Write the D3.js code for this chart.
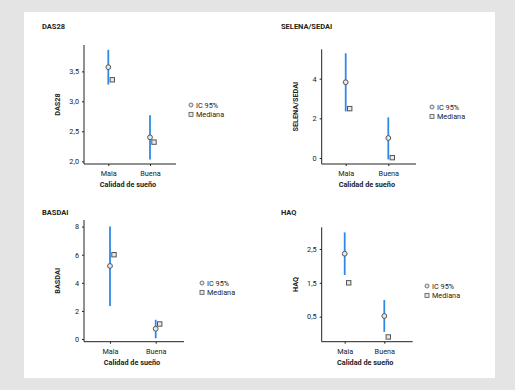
<!DOCTYPE html>
<html lang="es">
<head>
<meta charset="UTF-8">
<title>Calidad de sueño</title>
<script src="https://d3js.org/d3.v7.min.js"></script>
<style>
  body { margin: 0; background: #e4e4e4; font-family: Roboto, 'Noto Sans', sans-serif; }
  svg text { fill: #222; }
</style>
</head>
<body>
<svg id="viz" width="515" height="390"></svg>
<script>
// data
const categories = ["Mala", "Buena"];
const legendLabels = ["IC 95%", "Mediana"];

const das28Low = [3.28, 2.03];
const das28High = [3.86, 2.77];
const das28Mean = [3.57, 2.40];
const das28Median = [3.36, 2.32];
const das28Ticks = [2.0, 2.5, 3.0, 3.5];

const selenaLow = [2.35, -0.07];
const selenaHigh = [5.28, 2.05];
const selenaMean = [3.82, 1.01];
const selenaMedian = [2.49, 0.02];
const selenaTicks = [0, 2, 4];

const basdaiLow = [2.35, 0.05];
const basdaiHigh = [8.0, 1.37];
const basdaiMean = [5.2, 0.73];
const basdaiMedian = [6.0, 1.07];
const basdaiTicks = [0, 2, 4, 6, 8];

const haqLow = [1.73, 0.05];
const haqHigh = [2.99, 0.99];
const haqMean = [2.36, 0.52];
const haqMedian = [1.5, -0.1];
const haqTicks = [0.5, 1.5, 2.5];

const fmt = d3.format(",.1f");
const fmtComma = d => fmt(d).replace(".", ",");

const svg = d3.select("#viz");
svg.append("rect").attr("x", 24).attr("y", 12).attr("width", 471).attr("height", 366).attr("fill", "#fff");

// panels: layout only
const panels = [
  { title: "DAS28", low: das28Low, high: das28High, mean: das28Mean, median: das28Median,
    ticks: das28Ticks, tf: fmtComma, domain: [1.955, 3.94],
    ox: 84, top: 45, bottom: 164, right: 176, xs: [108.3, 150], titleX: 42, titleY: 29, legX: 191, legY: 105 },
  { title: "SELENA/SEDAI", low: selenaLow, high: selenaHigh, mean: selenaMean, median: selenaMedian,
    ticks: selenaTicks, tf: d3.format("d"), domain: [-0.3, 5.48],
    ox: 321.7, top: 49.3, bottom: 164, right: 416, xs: [345.7, 388.3], titleX: 281, titleY: 29, legX: 432, legY: 107 },
  { title: "BASDAI", low: basdaiLow, high: basdaiHigh, mean: basdaiMean, median: basdaiMedian,
    ticks: basdaiTicks, tf: d3.format("d"), domain: [-0.19, 8.47],
    ox: 84, top: 220, bottom: 341.7, right: 184, xs: [110, 155.7], titleX: 42, titleY: 214.5, legX: 202, legY: 283 },
  { title: "HAQ", low: haqLow, high: haqHigh, mean: haqMean, median: haqMedian,
    ticks: haqTicks, tf: fmtComma, domain: [-0.24, 3.14],
    ox: 321.7, top: 227.3, bottom: 341.7, right: 412.7, xs: [344.7, 384.3], titleX: 281, titleY: 214.5, legX: 427, legY: 286 }
];

panels.forEach(p => {
  const g = svg.append("g");
  const y = d3.scaleLinear().domain(p.domain).range([p.bottom, p.top]);
  const x = d3.scaleOrdinal().domain(categories).range(p.xs);

  g.append("text").attr("x", p.titleX).attr("y", p.titleY)
    .attr("font-size", 7.5).attr("font-weight", 700).text(p.title);

  // y axis
  const yAxis = g.append("g").attr("transform", `translate(${p.ox},0)`)
    .call(d3.axisLeft(y).tickValues(p.ticks).tickFormat(p.tf).tickSize(2).tickPadding(3));
  yAxis.select(".domain").attr("d", `M0,${p.top}V${p.bottom}`).attr("stroke", "#222");
  yAxis.selectAll(".tick line").attr("stroke", "#222");
  yAxis.selectAll("text").attr("font-size", 7.3).attr("font-family", "Roboto");

  // x axis
  const xAxis = g.append("g").attr("transform", `translate(0,${p.bottom})`)
    .call(d3.axisBottom(x).tickSize(2).tickPadding(5));
  xAxis.select(".domain").attr("d", `M${p.ox},0H${p.right}`).attr("stroke", "#222");
  xAxis.selectAll(".tick line").attr("stroke", "#222");
  xAxis.selectAll("text").attr("font-size", 7.3).attr("font-family", "Roboto");

  g.append("text").attr("x", (p.ox + p.right) / 2 - 2).attr("y", p.bottom + 23)
    .attr("text-anchor", "middle").attr("font-size", 7.3).attr("font-weight", 700).text("Calidad de sueño");
  g.append("text")
    .attr("transform", `translate(${p.ox - 24},${(p.top + p.bottom) / 2}) rotate(-90)`)
    .attr("text-anchor", "middle").attr("font-size", 7.3).attr("font-weight", 700).text(p.title);

  const rows = categories.map((c, i) => ({ c, lo: p.low[i], hi: p.high[i], m: p.mean[i], md: p.median[i] }));

  g.selectAll(".ci").data(rows).enter().append("line")
    .attr("x1", d => x(d.c)).attr("x2", d => x(d.c))
    .attr("y1", d => y(d.lo)).attr("y2", d => y(d.hi))
    .attr("stroke", "#2e8ae6").attr("stroke-width", 1.8);

  g.selectAll(".med").data(rows).enter().append("rect")
    .attr("x", d => x(d.c) + 4 - 2.2).attr("y", d => y(d.md) - 2.2)
    .attr("width", 4.4).attr("height", 4.4)
    .attr("fill", "#e8e8e8").attr("stroke", "#555").attr("stroke-width", 1);

  g.selectAll(".mean").data(rows).enter().append("circle")
    .attr("cx", d => x(d.c)).attr("cy", d => y(d.m)).attr("r", 2.4)
    .attr("fill", "#e8e8e8").attr("stroke", "#555").attr("stroke-width", 1);

  // legend
  const leg = g.append("g").attr("transform", `translate(${p.legX},${p.legY})`);
  leg.append("circle").attr("cx", 0).attr("cy", 0).attr("r", 2)
    .attr("fill", "#e8e8e8").attr("stroke", "#666").attr("stroke-width", 0.9);
  leg.append("rect").attr("x", -2).attr("y", 7.4).attr("width", 4).attr("height", 4)
    .attr("fill", "#e8e8e8").attr("stroke", "#666").attr("stroke-width", 0.9);
  leg.selectAll("text").data(legendLabels).enter().append("text")
    .attr("x", 5).attr("y", (d, i) => i * 9.4 + 2.6)
    .attr("font-size", 7.3).text(d => d);
});
</script>
</body>
</html>
